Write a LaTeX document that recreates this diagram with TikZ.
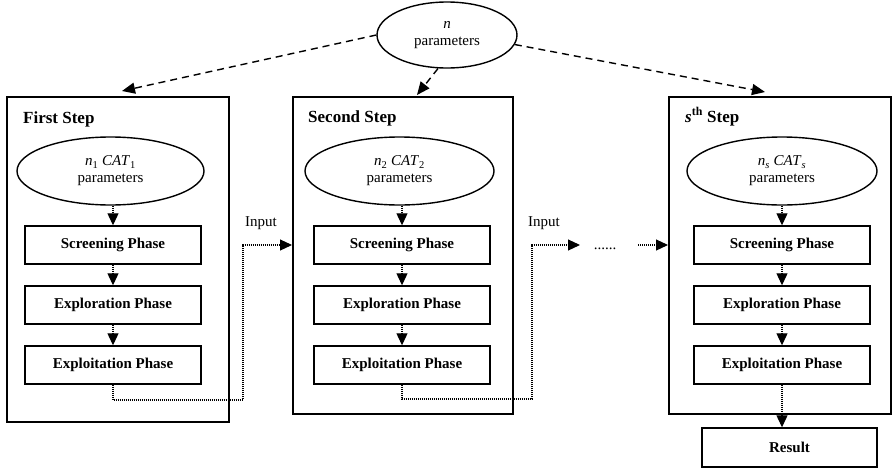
\documentclass[tikz,border=0pt]{standalone}
\usepackage{fontspec}
\setmainfont{Liberation Serif}
\usetikzlibrary{arrows.meta,shapes.geometric}
\begin{document}
\begin{tikzpicture}[x=1pt,y=-1pt,
  font=\fontsize{15}{17}\selectfont,
  stepbox/.style={draw,line width=1.6pt,inner sep=0pt},
  phase/.style={draw,line width=1.4pt,minimum width=176pt,minimum height=38pt,inner sep=0pt,font=\fontsize{15}{17}\selectfont\bfseries},
  oval/.style={draw,ellipse,line width=1.4pt,inner sep=0pt,align=center},
  dotarrow/.style={line width=1.1pt,dash pattern=on 1pt off 1pt,-{Triangle[length=12pt,width=11pt]}},
  dasharrow/.style={line width=1.4pt,dash pattern=on 7pt off 5pt,-{Triangle[length=13pt,width=11pt]}},
  title/.style={anchor=base west,font=\fontsize{17}{20}\selectfont\bfseries,inner sep=0pt},
  lbl/.style={inner sep=0pt}
]
\useasboundingbox (0,0) rectangle (892,472);

% step boxes
\node[stepbox,anchor=north west,minimum width=222pt,minimum height=325pt] (box1) at (6,96) {};
\node[stepbox,anchor=north west,minimum width=220pt,minimum height=317pt] (box2) at (292,96) {};
\node[stepbox,anchor=north west,minimum width=222pt,minimum height=317pt] (box3) at (668,96) {};

% titles
\node[title] (h1) at (23,123) {First Step};
\node[title] (h2) at (308,122) {Second Step};
\node[title] (h3) at (685,122) {\textit{s}\textsuperscript{th} Step};

% top ellipse
\node[oval,minimum width=140pt,minimum height=66pt] (top) at (447,35) {\textit{n}\\parameters};

% inner ellipses
\node[oval,minimum width=187pt,minimum height=68pt] (e1) at (110.5,171) {\textit{n}\textsubscript{1} \textit{CAT}\textsubscript{1}\\parameters};
\node[oval,minimum width=189pt,minimum height=68pt] (e2) at (399.5,171) {\textit{n}\textsubscript{2} \textit{CAT}\textsubscript{2}\\parameters};
\node[oval,minimum width=190pt,minimum height=68pt] (e3) at (782,171) {\textit{n}\textsubscript{\textit{s}} \textit{CAT}\textsubscript{\textit{s}}\\parameters};

% phases
\node[phase] (s1) at (113,245) {Screening Phase};
\node[phase] (x1) at (113,305) {Exploration Phase};
\node[phase] (t1) at (113,365) {Exploitation Phase};
\node[phase] (s2) at (402,245) {Screening Phase};
\node[phase] (x2) at (402,305) {Exploration Phase};
\node[phase] (t2) at (402,365) {Exploitation Phase};
\node[phase] (s3) at (782,245) {Screening Phase};
\node[phase] (x3) at (782,305) {Exploration Phase};
\node[phase] (t3) at (782,365) {Exploitation Phase};

% result
\node[phase,minimum width=175pt,minimum height=39pt] (res) at (789.5,447.5) {Result};

% inner arrows
\draw[dotarrow] (s1.north |- e1.south) -- (s1.north);
\draw[dotarrow] (s1) -- (x1);
\draw[dotarrow] (x1) -- (t1);
\draw[dotarrow] (s2.north |- e2.south) -- (s2.north);
\draw[dotarrow] (s2) -- (x2);
\draw[dotarrow] (x2) -- (t2);
\draw[dotarrow] (s3.north |- e3.south) -- (s3.north);
\draw[dotarrow] (s3) -- (x3);
\draw[dotarrow] (x3) -- (t3);
\draw[dotarrow] (t3.south) -- (t3.south |- res.north);

% inputs
\coordinate (k1) at (243,400);
\draw[dotarrow] (t1.south) |- (k1) |- (box2.west |- s2.west);
\node[lbl,anchor=base west] (in1) at (245,226) {Input};

\coordinate (k2) at (532,399);
\coordinate (a2) at (580,245);
\draw[dotarrow] (t2.south) |- (k2) |- (a2);
\node[lbl,anchor=base west] (in2) at (528,226) {Input};

\node[lbl,anchor=base] (dots) at (605,249) {......};
\coordinate (a3) at (638,245);
\draw[dotarrow] (a3) -- (box3.west |- a3);

% dashed arrows from top
\coordinate (d1) at (122,91);
\coordinate (d2) at (417,95);
\coordinate (d3) at (765,92);
\draw[dasharrow] (top.west) -- (d1);
\draw[dasharrow] (top.-105) -- (d2);
\draw[dasharrow] (top.-8) -- (d3);
\end{tikzpicture}
\end{document}
